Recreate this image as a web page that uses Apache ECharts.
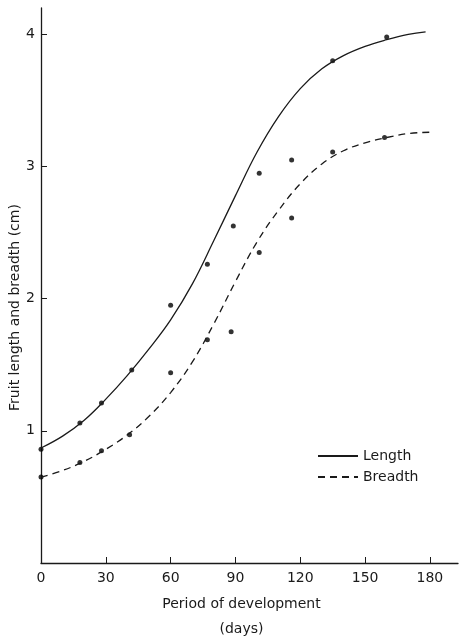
<!DOCTYPE html>
<html lang="en">
<head>
    <meta charset="UTF-8">
    <title>Fruit length and breadth</title>
    <style>
        html, body { margin: 0; padding: 0; background: #fff; }
    </style>
</head>
<body>
    <div id="chart" style="width: 462px;height: 637px"></div>

    <script src="https://cdn.jsdelivr.net/npm/echarts@6/dist/echarts.min.js"></script>
    <script>
        // observed points
        var lengthDays = [0, 18, 28, 42, 60, 77, 89, 101, 116, 135, 160];
        var lengthObs = [0.86, 1.06, 1.21, 1.46, 1.95, 2.26, 2.55, 2.95, 3.05, 3.80, 3.98];
        var breadthDays = [0, 18, 28, 41, 60, 77, 88, 101, 116, 135, 159];
        var breadthObs = [0.65, 0.76, 0.85, 0.97, 1.44, 1.69, 1.75, 2.35, 2.61, 3.11, 3.22];

        // fitted curves
        var lengthCurveDays = [0, 10, 20, 30, 40, 50, 60, 70, 80, 90, 100, 110, 120, 130, 140, 150, 160, 170, 178];
        var lengthCurve = [0.87, 0.96, 1.08, 1.24, 1.42, 1.62, 1.84, 2.11, 2.44, 2.78, 3.11, 3.38, 3.59, 3.74, 3.84, 3.91, 3.96, 4.00, 4.02];
        var breadthCurveDays = [0, 10, 20, 30, 40, 50, 60, 70, 80, 90, 100, 110, 120, 130, 140, 150, 160, 170, 180];
        var breadthCurve = [0.65, 0.70, 0.77, 0.86, 0.97, 1.11, 1.29, 1.52, 1.81, 2.13, 2.43, 2.67, 2.87, 3.02, 3.12, 3.18, 3.22, 3.25, 3.26];

        var xTicks = [0, 30, 60, 90, 120, 150, 180];
        var yTicks = [1, 2, 3, 4];

        function pairs(xs, ys) {
            return xs.map(function (x, i) { return [x, ys[i]]; });
        }

        var ink = '#1a1a1a';
        var font = 'DejaVu Sans';

        var myChart = echarts.init(document.getElementById('chart'));
        myChart.setOption({
            animation: false,
            textStyle: { fontFamily: font },
            grid: { left: 41, right: 4, top: 8, bottom: 74, outerBoundsMode: 'none', containLabel: false },
            legend: {
                data: ['Length', 'Breadth'],
                orient: 'vertical',
                left: 312,
                top: 444,
                itemWidth: 40,
                itemHeight: 14,
                itemGap: 7,
                itemStyle: { opacity: 0 },
                textStyle: { fontFamily: font, fontSize: 14, color: ink }
            },
            xAxis: {
                type: 'value',
                min: 0,
                max: 193,
                interval: 30,
                splitLine: { show: false },
                axisLine: { lineStyle: { color: ink, width: 1.3 } },
                axisTick: { inside: true, length: 6, customValues: xTicks, lineStyle: { color: ink } },
                axisLabel: { customValues: xTicks, color: ink, fontSize: 14, margin: 8 },
                name: 'Period of development\n(days)',
                nameLocation: 'middle',
                nameGap: 29,
                nameTextStyle: { fontSize: 14, color: ink, lineHeight: 25, padding: [0, 16, 0, 0], verticalAlign: 'top' }
            },
            yAxis: {
                type: 'value',
                min: 0,
                max: 4.2,
                interval: 1,
                splitLine: { show: false },
                axisLine: { lineStyle: { color: ink, width: 1.3 } },
                axisTick: { inside: true, length: 6, customValues: yTicks, lineStyle: { color: ink } },
                axisLabel: { customValues: yTicks, color: ink, fontSize: 14, margin: 6 },
                name: 'Fruit length and breadth (cm)',
                nameLocation: 'middle',
                nameGap: 19,
                nameMoveOverlap: false,
                nameTextStyle: { fontSize: 14, color: ink, padding: [0, 44, 0, 0] }
            },
            series: [
                {
                    name: 'Length',
                    type: 'line',
                    smooth: 0.4,
                    symbol: 'none',
                    lineStyle: { color: ink, width: 1.3 },
                    itemStyle: { color: ink },
                    data: pairs(lengthCurveDays, lengthCurve)
                },
                {
                    name: 'Breadth',
                    type: 'line',
                    smooth: 0.4,
                    symbol: 'none',
                    lineStyle: { color: ink, width: 1.3, type: [7, 5] },
                    itemStyle: { color: ink },
                    data: pairs(breadthCurveDays, breadthCurve)
                },
                {
                    name: 'length obs',
                    type: 'scatter',
                    symbolSize: 5,
                    itemStyle: { color: '#000' },
                    data: pairs(lengthDays, lengthObs)
                },
                {
                    name: 'breadth obs',
                    type: 'scatter',
                    symbolSize: 5,
                    itemStyle: { color: '#000' },
                    data: pairs(breadthDays, breadthObs)
                }
            ]
        });
    </script>
</body>
</html>
